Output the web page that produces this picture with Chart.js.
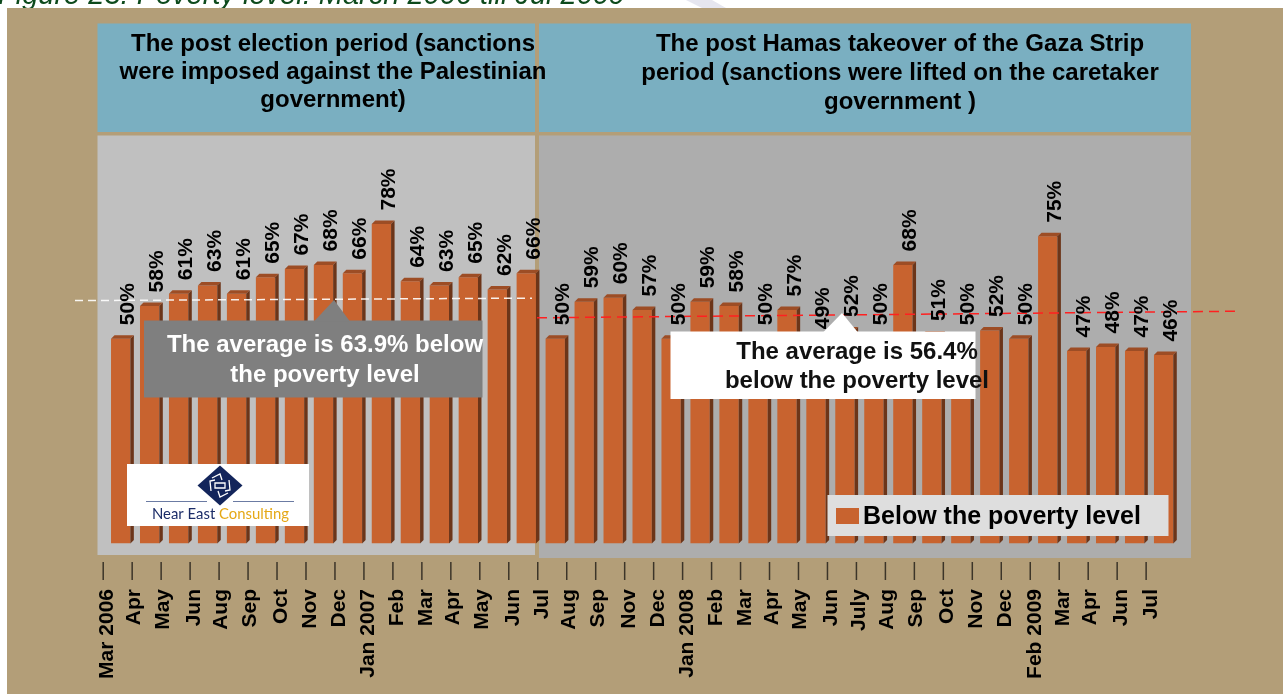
<!DOCTYPE html>
<html>
<head>
<meta charset="utf-8">
<title>Poverty level March 2006 till Jul 2009</title>
<script src="https://cdn.jsdelivr.net/npm/chart.js"></script>
<style>
  html, body { margin: 0; padding: 0; background: #fff; }
  canvas { display: block; }
</style>
</head>
<body>
<canvas id="povertyChart" width="1283" height="694"></canvas>
<script>
// Months on the x axis
const months = ["Mar 2006", "Apr", "May", "Jun", "Aug", "Sep", "Oct", "Nov", "Dec", "Jan 2007",
  "Feb", "Mar", "Apr", "May", "Jun", "Jul", "Aug", "Sep", "Nov", "Dec", "Jan 2008",
  "Feb", "Mar", "Apr", "May", "Jun", "July", "Aug", "Sep", "Oct", "Nov", "Dec",
  "Feb 2009", "Mar", "Apr", "Jun", "Jul"];

// Share below the poverty level (%)
const belowPoverty = [50, 58, 61, 63, 61, 65, 67, 68, 66, 78,
  64, 63, 65, 62, 66, 50, 59, 60, 57, 50, 59,
  58, 50, 57, 49, 52, 50, 68, 51, 50, 52, 50,
  75, 47, 48, 47, 46];

const seriesName = "Below the poverty level";
const periodAverages = [63.9, 56.4];
const figureTitle = "Figure 23: Poverty level: March 2006 till Jul 2009";
const periodTitles = [
  ["The post election period (sanctions", "were imposed against the Palestinian", "government)"],
  ["The post Hamas takeover of the Gaza Strip", "period (sanctions were lifted on the caretaker", "government )"]
];

const FONT = '"Liberation Sans", Arial, sans-serif';
const BAR_FRONT = "#c8632f";
const BAR_TOP = "#9d4d25";
const BAR_SIDE = "#6c3519";
const DEPTH = 3.5;

// helper: rotated text, ink centred on cx, text ending (top) or starting (bottom) at y
function vText(ctx, text, cx, y, align) {
  const m = ctx.measureText(text);
  const bx = cx + (m.actualBoundingBoxAscent - m.actualBoundingBoxDescent) / 2;
  ctx.save();
  ctx.translate(bx, y);
  ctx.rotate(-Math.PI / 2);
  ctx.textAlign = align;
  ctx.textBaseline = "alphabetic";
  ctx.fillText(text, 0, 0);
  ctx.restore();
}

function centerLines(ctx, lines, cx, ys) {
  ctx.textAlign = "center";
  ctx.textBaseline = "middle";
  lines.forEach((t, i) => ctx.fillText(t, cx, ys[i]));
}

// background frame, header boxes and the two grey panels
const backdrop = {
  id: "backdrop",
  beforeDraw(chart) {
    const ctx = chart.ctx;
    const w = chart.width, h = chart.height;
    ctx.save();
    ctx.fillStyle = "#fff";
    ctx.fillRect(0, 0, w, h);

    // figure caption, mostly hidden behind the frame
    ctx.font = "italic 29px " + FONT;
    ctx.fillStyle = "#0d4a1c";
    ctx.textAlign = "left";
    ctx.textBaseline = "alphabetic";
    ctx.fillText(figureTitle, -2, 4);
    ctx.fillStyle = "#e6e6ef";
    ctx.beginPath();
    ctx.moveTo(686, 0); ctx.lineTo(712, 0); ctx.lineTo(726, 8); ctx.lineTo(702, 8);
    ctx.closePath(); ctx.fill();

    ctx.fillStyle = "#b39e78";
    ctx.fillRect(7, 8, w - 7, h - 8);

    ctx.fillStyle = "#7aafc1";
    ctx.fillRect(97.5, 23.5, 437.5, 108.5);
    ctx.fillRect(539, 23.5, 652, 108.5);

    ctx.fillStyle = "#c0c0c0";
    ctx.fillRect(97.5, 135.5, 437.5, 419.5);
    ctx.fillStyle = "#adadad";
    ctx.fillRect(539, 135.5, 652, 422.5);

    ctx.fillStyle = "#000";
    ctx.font = "bold 24px " + FONT;
    centerLines(ctx, periodTitles[0], 333, [44, 72, 100]);
    centerLines(ctx, periodTitles[1], 900, [44, 73, 102]);
    ctx.restore();
  }
};

// 3D faces, average lines and value labels
const barDecor = {
  id: "barDecor",
  afterDatasetsDraw(chart) {
    const ctx = chart.ctx;
    const y = chart.scales.y;
    const meta = chart.getDatasetMeta(0);
    ctx.save();
    meta.data.forEach(bar => {
      const p = bar.getProps(["x", "y", "width", "base"], true);
      const l = p.x - p.width / 2, r = p.x + p.width / 2;
      ctx.fillStyle = BAR_TOP;
      ctx.beginPath();
      ctx.moveTo(l, p.y); ctx.lineTo(l + DEPTH, p.y - DEPTH);
      ctx.lineTo(r + DEPTH, p.y - DEPTH); ctx.lineTo(r, p.y);
      ctx.closePath(); ctx.fill();
      ctx.fillStyle = BAR_SIDE;
      ctx.beginPath();
      ctx.moveTo(r, p.y); ctx.lineTo(r + DEPTH, p.y - DEPTH);
      ctx.lineTo(r + DEPTH, p.base - DEPTH); ctx.lineTo(r, p.base);
      ctx.closePath(); ctx.fill();
    });

    // average lines
    ctx.lineWidth = 1.5;
    ctx.setLineDash([8, 5]);
    ctx.strokeStyle = "rgba(255,255,255,0.9)";
    ctx.beginPath();
    ctx.moveTo(75, y.getPixelForValue(59.3));
    ctx.lineTo(532, y.getPixelForValue(59.9));
    ctx.stroke();
    ctx.setLineDash([10, 6]);
    ctx.strokeStyle = "#ff2020";
    ctx.beginPath();
    ctx.moveTo(537, y.getPixelForValue(55.1));
    ctx.lineTo(1236, y.getPixelForValue(56.7));
    ctx.stroke();
    ctx.setLineDash([]);

    // value labels
    ctx.fillStyle = "#000";
    ctx.font = "bold 21px " + FONT;
    meta.data.forEach((bar, i) => {
      vText(ctx, belowPoverty[i] + "%", bar.x + 6.5, bar.y - 13.5, "left");
    });
    ctx.restore();
  }
};

function callout(ctx, box, tip, fill) {
  ctx.fillStyle = fill;
  ctx.fillRect(box[0], box[1], box[2] - box[0], box[3] - box[1]);
  ctx.beginPath();
  ctx.moveTo(tip[0], box[1] + 1);
  ctx.lineTo(tip[1], tip[2]);
  ctx.lineTo(tip[3], box[1] + 1);
  ctx.closePath();
  ctx.fill();
}

// x axis, callouts, legend and logo
const overlay = {
  id: "overlay",
  afterDraw(chart) {
    const ctx = chart.ctx;
    const x = chart.scales.x;
    const step = x.getPixelForValue(1) - x.getPixelForValue(0);
    ctx.save();

    // ticks and month labels
    ctx.strokeStyle = "#3c3529";
    ctx.lineWidth = 1.5;
    ctx.fillStyle = "#000";
    ctx.font = "bold 21px " + FONT;
    months.forEach((m, i) => {
      const edge = x.getPixelForValue(i) - step / 2;
      ctx.beginPath();
      ctx.moveTo(edge - 3, 562);
      ctx.lineTo(edge - 3, 580);
      ctx.stroke();
      vText(ctx, m, edge, 589, "right");
    });

    // average callouts
    ctx.font = "bold 24px " + FONT;
    callout(ctx, [144, 320.5, 482.5, 397.5], [314, 334, 300, 350], "#7f7f7f");
    ctx.fillStyle = "#fff";
    centerLines(ctx, ["The average is " + periodAverages[0] + "% below", "the poverty level"], 325, [345, 375]);
    callout(ctx, [670.5, 331.5, 975.5, 399], [823, 842, 313, 858], "#fff");
    ctx.fillStyle = "#111";
    centerLines(ctx, ["The average is " + periodAverages[1] + "%", "below the poverty level"], 857, [352, 381]);

    // legend
    ctx.fillStyle = "#dedede";
    ctx.fillRect(827.5, 495, 341, 41);
    ctx.fillStyle = BAR_FRONT;
    ctx.fillRect(836, 508, 23, 16);
    ctx.fillStyle = "#000";
    ctx.font = "bold 25px " + FONT;
    ctx.textAlign = "left";
    ctx.textBaseline = "middle";
    ctx.fillText(seriesName, 863, 517);

    // Near East Consulting logo
    ctx.fillStyle = "#fff";
    ctx.fillRect(127, 464, 182, 62);
    ctx.fillStyle = "#13255b";
    ctx.beginPath();
    ctx.moveTo(220, 465.5); ctx.lineTo(242.5, 485.5);
    ctx.lineTo(220, 505.5); ctx.lineTo(197.5, 485.5);
    ctx.closePath(); ctx.fill();
    ctx.strokeStyle = "#fff";
    ctx.lineWidth = 1.3;
    ctx.beginPath();
    ctx.moveTo(212, 478); ctx.lineTo(220, 474); ctx.lineTo(222, 480);
    ctx.moveTo(229, 480); ctx.lineTo(230, 490); ctx.lineTo(225, 491);
    ctx.moveTo(228, 493); ctx.lineTo(220, 497); ctx.lineTo(218, 491);
    ctx.moveTo(211, 491); ctx.lineTo(210, 481); ctx.lineTo(215, 480);
    ctx.moveTo(215, 483); ctx.lineTo(225, 483); ctx.lineTo(225, 488); ctx.lineTo(215, 488); ctx.closePath();
    ctx.stroke();
    ctx.strokeStyle = "#6b7ba3";
    ctx.lineWidth = 1.2;
    ctx.beginPath();
    ctx.moveTo(146, 501.5); ctx.lineTo(207, 501.5);
    ctx.moveTo(233, 501.5); ctx.lineTo(294, 501.5);
    ctx.stroke();
    ctx.font = "15px Lato, \"Open Sans\", sans-serif";
    ctx.textBaseline = "alphabetic";
    ctx.textAlign = "left";
    const a = "Near East ", b = "Consulting";
    const total = ctx.measureText(a + b).width;
    ctx.translate(152, 519);
    ctx.scale(137 / total, 1);
    ctx.fillStyle = "#1c2d68";
    ctx.fillText(a, 0, 0);
    ctx.fillStyle = "#e5a817";
    ctx.fillText(b, ctx.measureText(a).width, 0);
    ctx.restore();
  }
};

const chart = new Chart(document.getElementById("povertyChart"), {
  type: "bar",
  data: {
    labels: months,
    datasets: [{
      label: seriesName,
      data: belowPoverty,
      backgroundColor: BAR_FRONT,
      borderWidth: 0,
      barPercentage: 0.667,
      categoryPercentage: 1
    }]
  },
  options: {
    responsive: false,
    animation: false,
    layout: { padding: { left: 106.2, right: 104.9, top: 133.9, bottom: 150.5 } },
    plugins: {
      legend: { display: false },
      tooltip: { enabled: false },
      title: { display: false }
    },
    scales: {
      x: { display: false, offset: true },
      y: { display: false, min: 0, max: 100 }
    }
  },
  plugins: [backdrop, barDecor, overlay]
});
</script>
</body>
</html>
